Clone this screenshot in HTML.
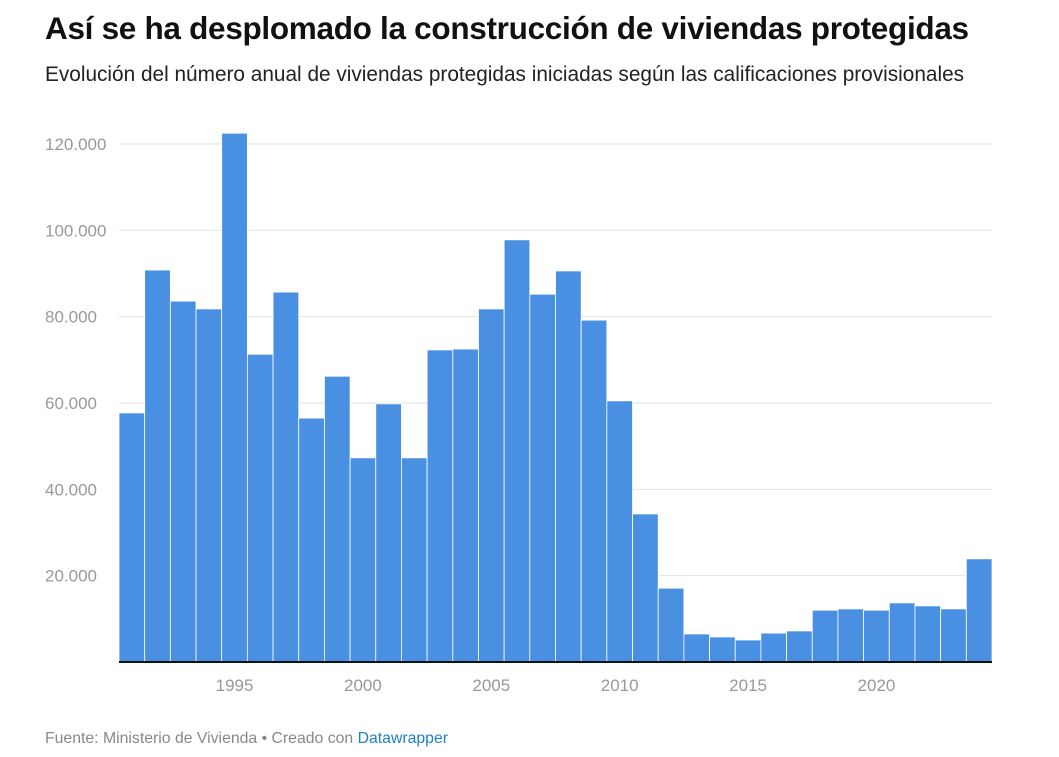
<!DOCTYPE html>
<html><head><meta charset="utf-8"><style>
body{margin:0;background:#fff;font-family:"Liberation Sans",sans-serif;}
#title{position:absolute;left:45px;top:10px;font-size:31.5px;font-weight:bold;color:#111;letter-spacing:-0.3px}
#sub{position:absolute;left:45px;top:63px;font-size:20.8px;color:#222}
#foot{position:absolute;left:45px;top:730px;font-size:15.8px;color:#888}
#foot span{color:#1d81c9}
</style></head><body>
<div id="title">Así se ha desplomado la construcción de viviendas protegidas</div>
<div id="sub">Evolución del número anual de viviendas protegidas iniciadas según las calificaciones provisionales</div>
<svg id="chart" width="1059" height="757" style="position:absolute;left:0;top:0"></svg>
<div id="foot">Fuente: Ministerio de Vivienda • Creado con <span>Datawrapper</span></div>
<script>
const years=[1991,1992,1993,1994,1995,1996,1997,1998,1999,2000,2001,2002,2003,2004,2005,2006,2007,2008,2009,2010,2011,2012,2013,2014,2015,2016,2017,2018,2019,2020,2021,2022,2023,2024];
const values=[57700,90800,83600,81800,122500,71300,85700,56500,66200,47300,59800,47300,72300,72500,81800,97800,85200,90600,79200,60500,34300,17100,6500,5800,5100,6700,7200,12000,12300,12000,13700,13000,12300,23900];
const yTicks=[20000,40000,60000,80000,100000,120000];
const yTickLabels=["20.000","40.000","60.000","80.000","100.000","120.000"];
const xTicks=[1995,2000,2005,2010,2015,2020];
const NS="http://www.w3.org/2000/svg";
const svg=document.getElementById('chart');
const x0=119,x1=992,y0=662,y1=144;
const bw=(x1-x0)/years.length;
const xs=yr=>x0+(yr-years[0])*bw;
const ys=v=>y0-(v/120000)*(y0-y1);
function mk(t,a){const e=document.createElementNS(NS,t);for(const k in a)e.setAttribute(k,a[k]);svg.appendChild(e);return e;}
yTicks.forEach((t,i)=>{
 const l=mk('line',{x1:x0,x2:x1,y1:ys(t),y2:ys(t),stroke:'#e2e2e2','stroke-width':1});
 
 
 const tx=mk('text',{x:45,y:ys(t)+6,'font-size':17,fill:'#999','font-family':'Liberation Sans, sans-serif'});
 tx.textContent=yTickLabels[i];
 
 
});
years.forEach((yr,i)=>{
 const r=mk('rect',{x:xs(yr),y:ys(values[i]),width:bw,height:y0-ys(values[i]),fill:'#4a90e2',stroke:'#fff','stroke-width':0.8});
 
 
});
const b=mk('line',{x1:x0,x2:x1,y1:y0,y2:y0,stroke:'#111','stroke-width':2});


xTicks.forEach(t=>{
 const tx=mk('text',{x:xs(t)+bw/2,y:691,'font-size':17,fill:'#999','text-anchor':'middle','font-family':'Liberation Sans, sans-serif'});
 tx.textContent=t;
 
 
});
</script>
</body></html>
